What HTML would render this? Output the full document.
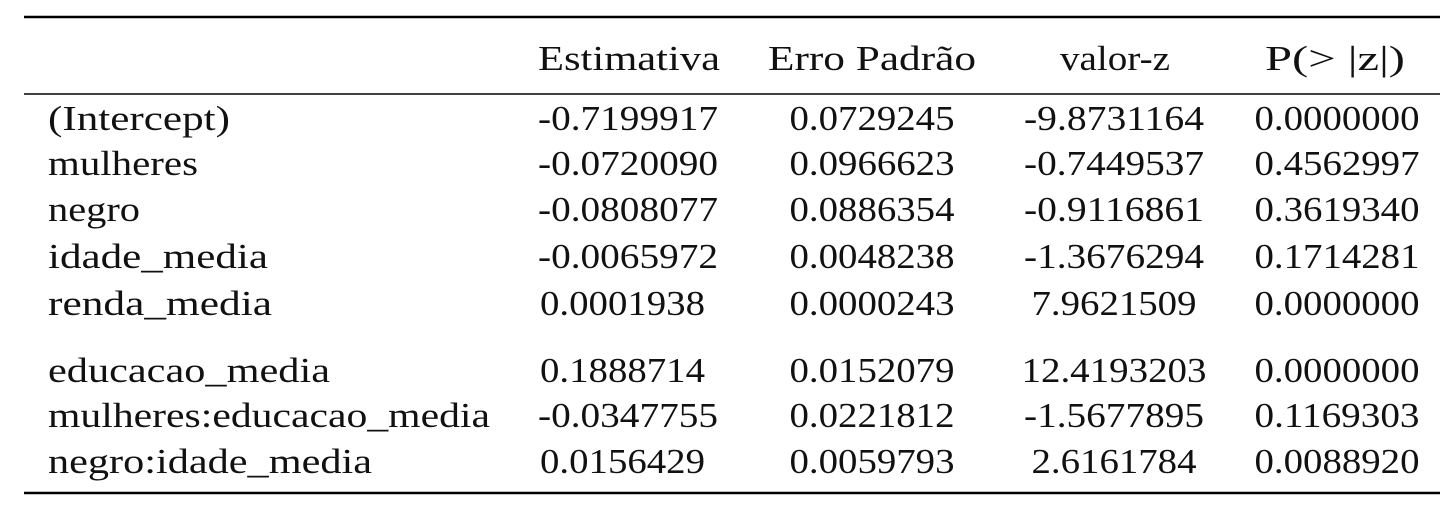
<!DOCTYPE html>
<html><head><meta charset="utf-8"><style>
html,body{margin:0;padding:0;background:#fff;}
svg{display:block;}
text{font-family:"Liberation Serif",serif;font-size:35px;fill:#111;}
</style></head><body>
<svg width="1456" height="509" viewBox="0 0 1456 509">
<line x1="24" y1="17" x2="1440" y2="17" stroke="#000" stroke-width="2.6"/>
<line x1="24" y1="94" x2="1440" y2="94" stroke="#000" stroke-width="1.6"/>
<line x1="24" y1="493" x2="1440" y2="493" stroke="#000" stroke-width="2.6"/>
<g>
<text x="538" y="70" textLength="182" lengthAdjust="spacingAndGlyphs">Estimativa</text>
<text x="768" y="70" textLength="208" lengthAdjust="spacingAndGlyphs">Erro Padrão</text>
<text x="1060" y="70" textLength="110" lengthAdjust="spacingAndGlyphs">valor-z</text>
<text x="1265" y="70" textLength="140" lengthAdjust="spacingAndGlyphs">P(&gt; |z|)</text>
</g>
<g id="rows"></g>
</svg>
<script>
const labels=["(Intercept)","mulheres","negro","idade_media","renda_media","educacao_media","mulheres:educacao_media","negro:idade_media"];
const labelWidths=[182,150,92,220,224,282,442,324];
const estimativa=["-0.7199917","-0.0720090","-0.0808077","-0.0065972","0.0001938","0.1888714","-0.0347755","0.0156429"];
const erro=["0.0729245","0.0966623","0.0886354","0.0048238","0.0000243","0.0152079","0.0221812","0.0059793"];
const valorz=["-9.8731164","-0.7449537","-0.9116861","-1.3676294","7.9621509","12.4193203","-1.5677895","2.6161784"];
const pval=["0.0000000","0.4562997","0.3619340","0.1714281","0.0000000","0.0000000","0.1169303","0.0088920"];
const baselines=[130,175,221,268,315,382,427,473];
const ns="http://www.w3.org/2000/svg";
const g=document.getElementById('rows');
function w(s){if(s.startsWith('-'))return 180; if(s.length>9)return 185; return 165;}
function mk(txt,x,y,len,anchor,name){
 const t=document.createElementNS(ns,'text');
 t.setAttribute('x',x);t.setAttribute('y',y);
 t.setAttribute('textLength',len);t.setAttribute('lengthAdjust','spacingAndGlyphs');
 if(anchor)t.setAttribute('text-anchor',anchor);
 t.textContent=txt;
 
 
 g.appendChild(t);
}
labels.forEach((l,i)=>{
 const y=baselines[i];
 mk(l,48,y,labelWidths[i],null,'row-label');
 mk(estimativa[i],estimativa[i].startsWith('-')?538:540,y,w(estimativa[i]),null,'estimativa-cell');
 mk(erro[i],872,y,w(erro[i]),'middle','erro-padrao-cell');
 mk(valorz[i],1114,y,w(valorz[i]),'middle','valor-z-cell');
 mk(pval[i],1337,y,w(pval[i]),'middle','p-value-cell');
});
</script>
</body></html>
